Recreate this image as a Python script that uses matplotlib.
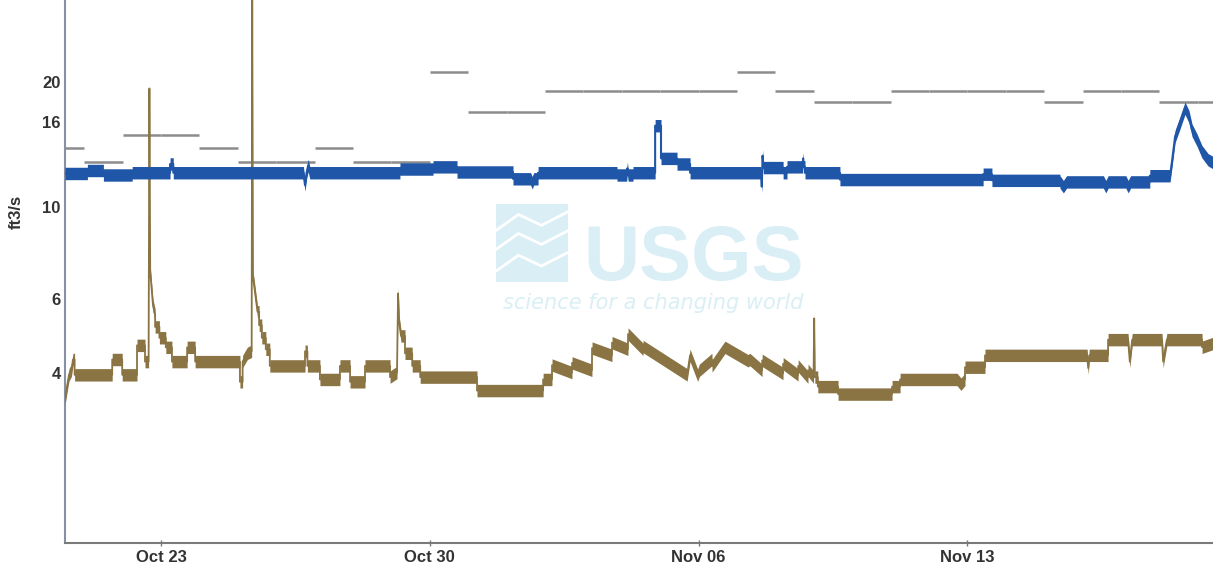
import matplotlib
matplotlib.use('Agg')
import matplotlib.pyplot as plt
from matplotlib.patches import Rectangle
from matplotlib.ticker import FixedLocator, NullLocator
import pandas as pd

YEAR = '2015'

# lower gage (brown) - polyline vertices, repeated times are step changes
brown_t = [
    '10-20 12:00', '10-20 13:00', '10-20 14:30', '10-20 16:00', '10-20 17:00', '10-20 18:00',
    '10-20 18:00', '10-21 17:30', '10-21 17:30', '10-21 23:45', '10-21 23:45', '10-22 09:00',
    '10-22 09:00', '10-22 14:00', '10-22 14:00', '10-22 16:15', '10-22 16:45', '10-22 17:15',
    '10-22 19:00', '10-22 20:20', '10-22 20:20', '10-22 23:00', '10-22 23:00', '10-23 03:00',
    '10-23 03:00', '10-23 06:50', '10-23 06:50', '10-23 16:20', '10-23 16:20', '10-23 21:20',
    '10-23 21:20', '10-25 01:20', '10-25 01:20', '10-25 03:00', '10-25 03:00', '10-25 06:00',
    '10-25 08:40', '10-25 09:00', '10-25 09:30', '10-25 11:20', '10-25 12:20', '10-25 13:20',
    '10-25 13:20', '10-25 15:00', '10-25 15:00', '10-25 17:30', '10-25 17:30', '10-25 20:00',
    '10-25 20:00', '10-26 18:00', '10-26 18:00', '10-26 19:30', '10-26 19:30', '10-27 03:20',
    '10-27 03:20', '10-27 15:50', '10-27 15:50', '10-27 22:10', '10-27 22:10', '10-28 07:30',
    '10-28 07:30', '10-28 23:10', '10-28 23:10', '10-29 03:30', '10-29 04:10', '10-29 04:50',
    '10-29 06:00', '10-29 08:30', '10-29 08:30', '10-29 13:00', '10-29 13:00', '10-29 18:00',
    '10-29 18:00', '10-31 05:30', '10-31 05:30', '11-01 22:50', '11-01 22:50', '11-02 04:20',
    '11-02 04:25', '11-02 16:50', '11-02 16:55', '11-03 05:20', '11-03 05:25', '11-03 17:50',
    '11-03 17:55', '11-04 03:50', '11-04 03:55', '11-04 13:15', '11-04 13:20', '11-05 16:50',
    '11-05 18:40', '11-05 23:25', '11-06 00:30', '11-06 08:20', '11-06 08:25', '11-06 16:30',
    '11-07 06:55', '11-07 08:00', '11-07 15:40', '11-07 15:45', '11-08 04:45', '11-08 04:50',
    '11-08 14:10', '11-08 14:15', '11-08 20:20', '11-08 20:25', '11-08 23:50', '11-09 00:15',
    '11-09 00:40', '11-09 02:30', '11-09 02:30', '11-09 15:10', '11-09 15:10', '11-11 00:55',
    '11-11 00:55', '11-11 05:55', '11-11 05:55', '11-12 17:30', '11-12 20:00', '11-12 22:30',
    '11-12 22:30', '11-13 11:00', '11-13 11:00', '11-16 02:50', '11-16 03:30', '11-16 04:10',
    '11-16 15:55', '11-16 15:55', '11-17 04:25', '11-17 05:30', '11-17 07:00', '11-18 01:40',
    '11-18 02:20', '11-18 04:40', '11-19 02:40', '11-19 02:40', '11-19 09:30',
]
brown_v = [
    3.45, 3.65, 3.95, 4.05, 4.3, 4.3,
    3.95, 3.95, 4.3, 4.3, 3.95, 3.95,
    4.65, 4.65, 4.25, 4.25, 19.3, 7.0,
    5.8, 5.5, 5.15, 5.15, 4.85, 4.85,
    4.6, 4.6, 4.25, 4.25, 4.6, 4.6,
    4.25, 4.25, 3.8, 3.8, 4.25, 4.45,
    4.5, 34.0, 6.8, 6.0, 5.6, 5.6,
    5.2, 5.2, 4.85, 4.85, 4.55, 4.55,
    4.15, 4.15, 4.5, 4.5, 4.15, 4.15,
    3.85, 3.85, 4.15, 4.15, 3.8, 3.8,
    4.15, 4.15, 3.9, 4.0, 6.2, 5.3,
    4.9, 4.9, 4.45, 4.45, 4.15, 4.15,
    3.9, 3.9, 3.62, 3.62, 3.85, 3.85,
    4.17, 4.0, 4.22, 4.05, 4.58, 4.4,
    4.72, 4.55, 4.95, 4.55, 4.62, 3.95,
    4.4, 3.94, 4.05, 4.3, 4.15, 4.6,
    4.27, 4.3, 4.05, 4.28, 3.98, 4.2,
    3.95, 4.15, 3.9, 4.05, 3.9, 5.4,
    3.9, 3.9, 3.7, 3.7, 3.55, 3.55,
    3.7, 3.7, 3.85, 3.85, 3.75, 3.85,
    4.12, 4.12, 4.4, 4.4, 4.1, 4.4,
    4.4, 4.8, 4.8, 4.25, 4.8, 4.8,
    4.25, 4.8, 4.8, 4.6, 4.7,
]

# upper gage (blue)
blue_t = [
    '10-20 12:00', '10-21 02:00', '10-21 02:00', '10-21 12:00', '10-21 12:00', '10-22 06:00',
    '10-22 06:00', '10-23 05:40', '10-23 05:40', '10-23 07:40', '10-23 07:40', '10-26 17:00',
    '10-26 18:00', '10-26 19:00', '10-26 20:00', '10-26 21:00', '10-29 05:20', '10-29 05:20',
    '10-30 02:00', '10-30 02:00', '10-30 17:00', '10-30 17:00', '11-01 04:00', '11-01 04:00',
    '11-01 15:00', '11-01 16:00', '11-01 17:00', '11-01 19:40', '11-01 19:40', '11-03 21:00',
    '11-03 21:00', '11-04 03:00', '11-04 03:30', '11-04 04:00', '11-04 07:00', '11-04 07:00',
    '11-04 20:50', '11-04 20:50', '11-05 00:30', '11-05 00:30', '11-05 10:30', '11-05 10:30',
    '11-05 18:40', '11-05 18:40', '11-07 15:00', '11-07 15:30', '11-07 16:00', '11-07 16:30',
    '11-08 04:50', '11-08 04:50', '11-08 07:15', '11-08 07:15', '11-08 17:00', '11-08 17:20',
    '11-08 17:40', '11-08 18:30', '11-08 18:30', '11-09 16:20', '11-09 16:20', '11-13 09:50',
    '11-13 09:50', '11-13 15:20', '11-13 15:20', '11-15 09:50', '11-15 09:50', '11-15 12:00',
    '11-15 14:00', '11-16 13:00', '11-16 14:30', '11-16 16:00', '11-17 03:00', '11-17 04:30',
    '11-17 06:00', '11-17 18:00', '11-17 18:00', '11-18 06:40', '11-18 08:00', '11-18 09:50',
    '11-18 13:00', '11-18 16:00', '11-18 18:30', '11-18 20:25', '11-18 23:30', '11-19 02:35',
    '11-19 06:25', '11-19 09:30',
]
blue_v = [
    12.05, 12.05, 12.25, 12.25, 11.95, 11.95,
    12.1, 12.1, 12.7, 12.7, 12.1, 12.1,
    11.3, 12.1, 12.6, 12.1, 12.1, 12.35,
    12.35, 12.5, 12.5, 12.15, 12.15, 11.7,
    11.7, 11.45, 11.7, 11.7, 12.1, 12.1,
    11.95, 11.95, 12.4, 11.95, 11.95, 12.1,
    12.1, 15.7, 15.7, 13.1, 13.1, 12.7,
    12.7, 12.1, 12.1, 11.2, 13.3, 12.45,
    12.45, 12.1, 12.1, 12.5, 12.5, 13.1,
    12.5, 12.5, 12.1, 12.1, 11.65, 11.65,
    12.0, 12.0, 11.6, 11.6, 11.5, 11.2,
    11.5, 11.5, 11.2, 11.5, 11.5, 11.2,
    11.5, 11.5, 11.9, 11.9, 13.0, 14.8,
    16.0, 17.3, 16.5, 15.3, 14.5, 13.6,
    13.0, 12.8,
]

# daily statistic (gray dashes), one value per day starting Oct 20
stat_days = pd.date_range(YEAR + '-10-20', YEAR + '-11-19', freq='D')
stat_v = [13.9, 12.85, 14.9, 14.9, 13.9, 12.85, 12.85, 13.9, 12.85, 12.85,
          21.1, 16.95, 16.95, 19.0, 19.0, 19.0, 19.0, 19.0, 21.1, 19.0,
          17.9, 17.9, 19.0, 19.0, 19.0, 19.0, 17.9, 19.0, 19.0, 17.9, 17.9]

y_ticks = [4, 6, 10, 16, 20]
x_ticks = ['10-23', '10-30', '11-06', '11-13']
x_labels = ['Oct 23', 'Oct 30', 'Nov 06', 'Nov 13']

BLUE = '#1f56a8'
BROWN = '#8a7443'
GRAY = '#8c8c8c'
BAND = 1.035


def to_time(lst):
    return pd.to_datetime([f'{YEAR}-{s}' for s in lst])


fig = plt.figure(figsize=(12.13, 5.69), dpi=100)
ax = fig.add_axes([65 / 1213, 1 - 543 / 569, 1 - 65 / 1213, 543 / 569])

# watermark
wm = '#d9eff5'
ax.add_patch(Rectangle((0.375, 0.48), 0.063, 0.145, transform=ax.transAxes,
                       color=wm, zorder=0, lw=0))
for yy in (0.52, 0.56, 0.595):
    ax.plot([0.375, 0.395, 0.415, 0.438], [yy - 0.02, yy + 0.01, yy - 0.01, yy + 0.015],
            transform=ax.transAxes, color='white', lw=2, zorder=0.5)
ax.text(0.548, 0.485, 'USGS', transform=ax.transAxes, ha='center', va='baseline',
        fontsize=56, fontweight='bold', color=wm, zorder=0, family='Liberation Sans')
ax.text(0.512, 0.442, 'science for a changing world', transform=ax.transAxes,
        ha='center', va='center', fontsize=15, style='italic', color=wm, zorder=0)

# daily statistic dashes
ax.hlines(stat_v, stat_days, stat_days + pd.Timedelta(hours=24), color=GRAY, lw=1.8, zorder=2)

# brown series
tb = to_time(brown_t)
vb = pd.Series(brown_v)
ax.fill_between(tb, vb / BAND, vb * BAND, color=BROWN, lw=0, zorder=3)
ax.plot(tb, vb, color=BROWN, lw=1.3, zorder=3)

# blue series
tu = to_time(blue_t)
vu = pd.Series(blue_v)
ax.fill_between(tu, vu / BAND, vu * BAND, color=BLUE, lw=0, zorder=4)
ax.plot(tu, vu, color=BLUE, lw=1.5, zorder=4)

ax.set_yscale('log')
ax.set_ylim(1.556, 31.5)
ax.set_xlim(pd.Timestamp(YEAR + '-10-20 12:00'), pd.Timestamp(YEAR + '-11-19 09:30'))
ax.yaxis.set_major_locator(FixedLocator(y_ticks))
ax.yaxis.set_minor_locator(NullLocator())
ax.set_yticklabels([str(v) for v in y_ticks])
ax.set_xticks(to_time([s + ' 00:00' for s in x_ticks]))
ax.set_xticklabels(x_labels)

for lab in ax.get_xticklabels() + ax.get_yticklabels():
    lab.set_fontweight('bold')
    lab.set_fontsize(12)
    lab.set_color('#333333')
    lab.set_family('Liberation Sans')
ax.tick_params(axis='y', length=0, pad=3)
ax.tick_params(axis='x', length=4, width=1, color='#777777', direction='inout', pad=3)

ax.set_ylabel('ft3/s', fontsize=12, fontweight='bold', color='#333333', family='Liberation Sans')
ax.yaxis.set_label_coords(-0.036, 0.61)

for s in ('top', 'right'):
    ax.spines[s].set_visible(False)
ax.spines['left'].set_color('#8890a4')
ax.spines['left'].set_linewidth(1.5)
ax.spines['bottom'].set_color('#7a7a7a')
ax.spines['bottom'].set_linewidth(1.5)

fig.savefig('out.png', dpi=100)
